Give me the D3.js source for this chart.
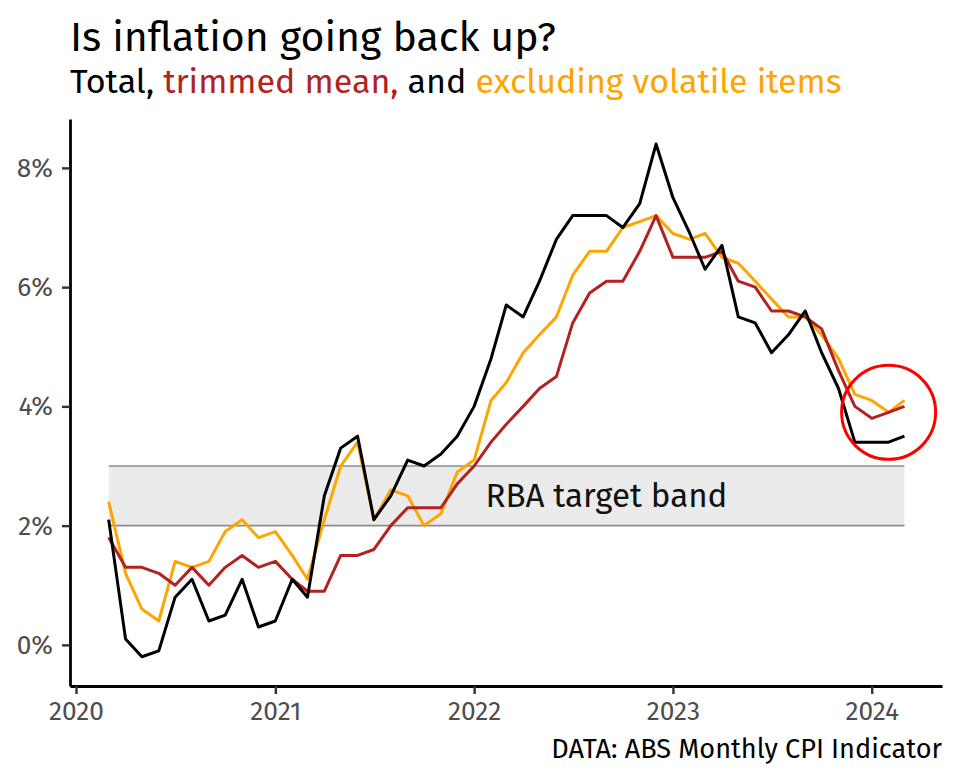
<!DOCTYPE html>
<html><head><meta charset="utf-8">
<script src="https://cdn.jsdelivr.net/npm/d3@7"></script>
<style>body{margin:0;background:#fff} svg{display:block}</style>
</head><body>
<svg id="chart" width="960" height="782"></svg>
<script>
// ---- data (annual % change, monthly, Mar 2020 .. Mar 2024) ----
const firstMonth = "2020-03-01";
const lastMonth  = "2024-03-01";
const totalCPI = [2.1,0.1,-0.2,-0.1,0.8,1.1,0.4,0.5,1.1,0.3,0.4,1.1,0.8,2.5,3.3,3.5,2.1,2.5,3.1,3.0,3.2,3.5,4.0,4.8,5.7,5.5,6.1,6.8,7.2,7.2,7.2,7.0,7.4,8.4,7.5,6.9,6.3,6.7,5.5,5.4,4.9,5.2,5.6,4.9,4.3,3.4,3.4,3.4,3.5];
const trimmedMean = [1.8,1.3,1.3,1.2,1.0,1.3,1.0,1.3,1.5,1.3,1.4,1.1,0.9,0.9,1.5,1.5,1.6,2.0,2.3,2.3,2.3,2.7,3.0,3.4,3.7,4.0,4.3,4.5,5.4,5.9,6.1,6.1,6.6,7.2,6.5,6.5,6.5,6.6,6.1,6.0,5.6,5.6,5.5,5.3,4.6,4.0,3.8,3.9,4.0];
const exVolatile = [2.4,1.2,0.6,0.4,1.4,1.3,1.4,1.9,2.1,1.8,1.9,1.5,1.1,2.1,3.0,3.4,2.1,2.6,2.5,2.0,2.2,2.9,3.1,4.1,4.4,4.9,5.2,5.5,6.2,6.6,6.6,7.0,7.1,7.2,6.9,6.8,6.9,6.5,6.4,6.1,5.8,5.5,5.5,5.2,4.8,4.2,4.1,3.9,4.1];
const yTicks = [0,2,4,6,8];
const xTickYears = ["2020","2021","2022","2023","2024"];
const bandLow = 2, bandHigh = 3;
const bandLabel = "RBA target band";
const bandLabelAt = {date:"2022-09-01", value:2.5};
const circleAt = {date:"2024-02-01", value:3.9};
const titleText = "Is inflation going back up?";
const captionText = "DATA: ABS Monthly CPI Indicator";

const parse = d3.utcParse("%Y-%m-%d");
const dates = d3.utcMonth.range(parse(firstMonth), d3.utcMonth.offset(parse(lastMonth),1));

const FONT = "'Fira Sans','Open Sans','Noto Sans',sans-serif";
const svg = d3.select("#chart");
svg.append("rect").attr("width",960).attr("height",782).attr("fill","#fff");

const x = d3.scaleUtc().domain([Date.UTC(2019,11,21), Date.UTC(2024,4,9)]).range([70,942]);
const y = d3.scaleLinear().domain([-0.69, 8.82]).range([686,119]);

function fitWidth(sel, w){
  const cur = sel.node().getComputedTextLength();
  const fs = parseFloat(sel.attr("font-size"));
  sel.attr("font-size", fs*w/cur);
}

// band
const bx0 = x(dates[0]), bx1 = x(dates[dates.length-1]);
svg.append("rect").attr("x",bx0).attr("width",bx1-bx0)
  .attr("y",y(bandHigh)).attr("height",y(bandLow)-y(bandHigh)).attr("fill","#ebebeb");
[bandLow,bandHigh].forEach(v=>{
  svg.append("line").attr("x1",bx0).attr("x2",bx1).attr("y1",y(v)).attr("y2",y(v))
    .attr("stroke","#8c8c8c").attr("stroke-width",1.6);
});
const bl = svg.append("text").attr("x",x(parse(bandLabelAt.date))).attr("y",y(bandLabelAt.value))
  .attr("dy","0.35em").attr("text-anchor","middle").attr("font-family",FONT)
  .attr("font-size",32).attr("fill","#111").text(bandLabel);
fitWidth(bl,242);

// lines
const line = d3.line().x((d,i)=>x(dates[i])).y(d=>y(d));
[[exVolatile,"#ffa500"],[trimmedMean,"#b22222"],[totalCPI,"#000000"]].forEach(([s,c])=>{
  svg.append("path").datum(s).attr("d",line).attr("fill","none").attr("stroke",c)
    .attr("stroke-width",3).attr("stroke-linejoin","round");
});

// circle highlight
svg.append("circle").attr("cx",x(parse(circleAt.date))).attr("cy",y(circleAt.value)).attr("r",47)
  .attr("fill","none").attr("stroke","#ff0000").attr("stroke-width",3);

// axes
const yAxis = svg.append("g").attr("transform","translate(70,0)")
  .call(d3.axisLeft(y).tickValues(yTicks).tickFormat(d=>d+"%").tickSize(8).tickSizeOuter(0).tickPadding(9));
const xAxis = svg.append("g").attr("transform","translate(0,686)")
  .call(d3.axisBottom(x).tickValues(xTickYears.map(s=>parse(s+"-01-01"))).tickFormat(d3.utcFormat("%Y")).tickSize(8).tickSizeOuter(0).tickPadding(7));
[yAxis,xAxis].forEach(g=>{
  g.select(".domain").attr("stroke","#000").attr("stroke-width",2.8);
  g.selectAll(".tick line").attr("stroke","#333").attr("stroke-width",2.4);
  g.selectAll(".tick text").attr("fill","#4d4d4d").attr("font-family",FONT).attr("font-size",25);
});
// fit tick label size using one sample
{
  const t = xAxis.select(".tick text");
  const w = t.node().getComputedTextLength();
  const fs = 25*55/w;
  svg.selectAll(".tick text").attr("font-size",fs);
}

// title
const title = svg.append("text").attr("x",70).attr("y",51).attr("font-family",FONT)
  .attr("font-size",36).attr("fill","#000").text(titleText);
fitWidth(title,486);

const sub = svg.append("text").attr("x",70).attr("y",93).attr("font-family",FONT).attr("font-size",30);
[["Total, ","#000"],["trimmed mean,","#b22222"],[" and ","#000"],["excluding volatile items","#ffa500"]]
  .forEach(([t,c])=>sub.append("tspan").attr("fill",c).text(t));
sub.attr("xml:space","preserve").style("white-space","pre");
fitWidth(sub,772);

const cap = svg.append("text").attr("x",942).attr("y",758).attr("text-anchor","end")
  .attr("font-family",FONT).attr("font-size",24).attr("fill","#000").text(captionText);
fitWidth(cap,391);
</script>
</body></html>
